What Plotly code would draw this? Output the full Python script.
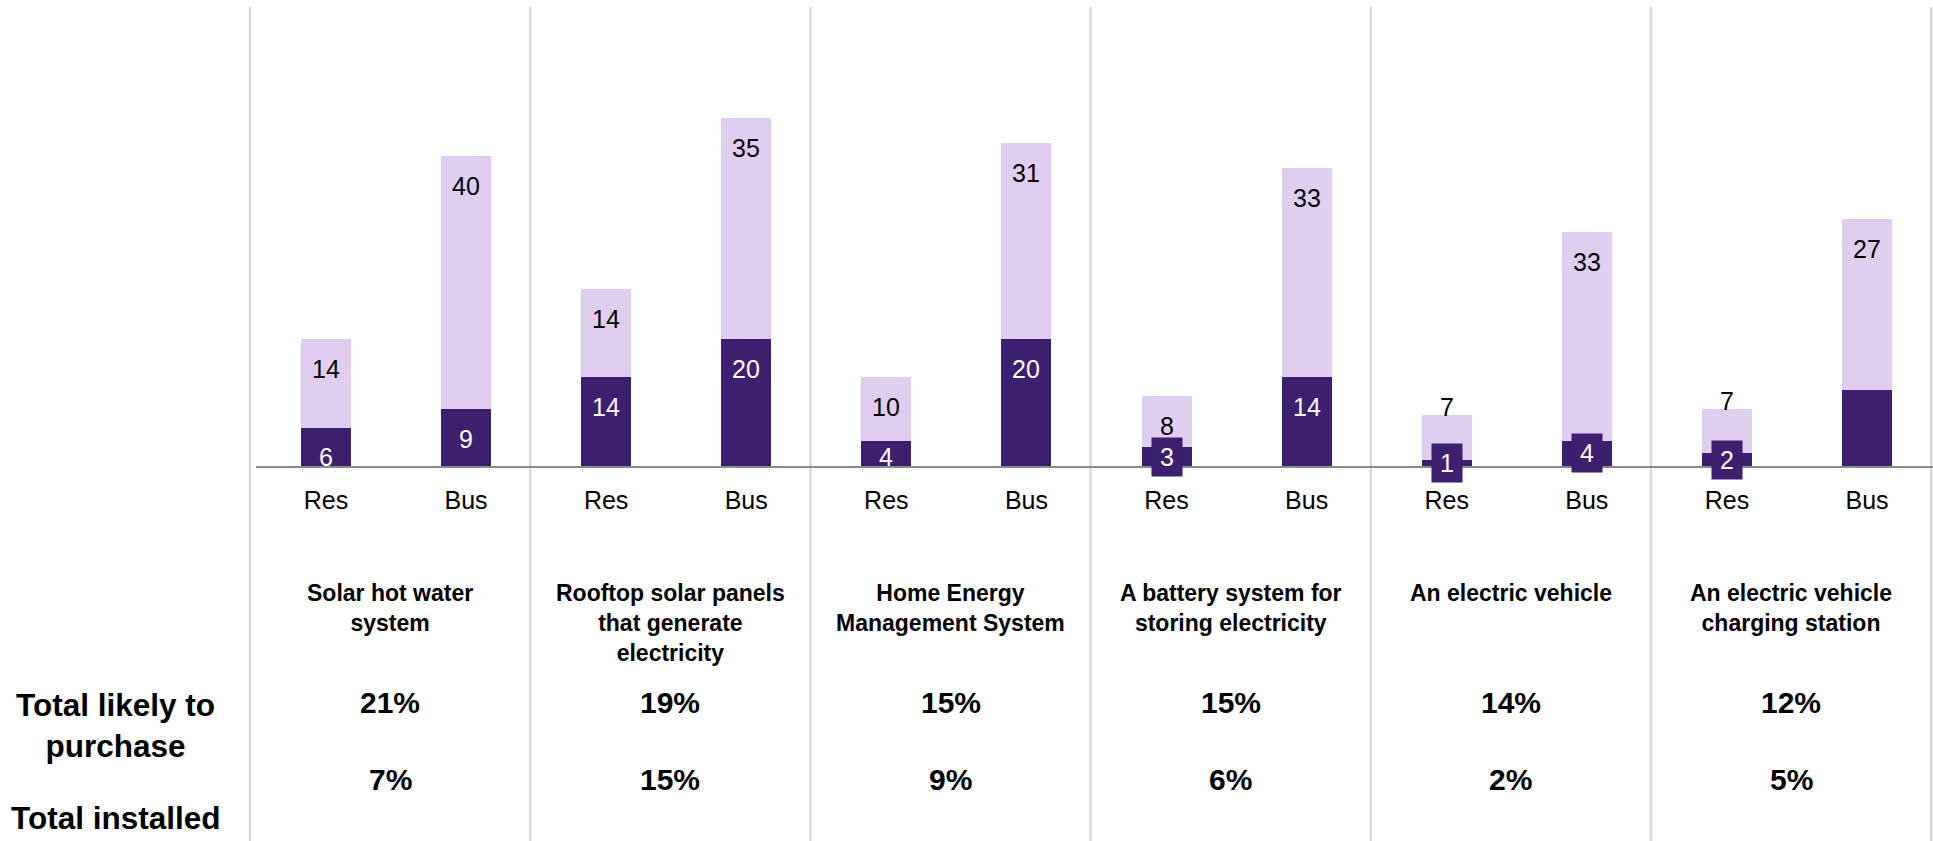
import plotly.graph_objects as go

# ---- data -------------------------------------------------------------
categories = [
    "Solar hot water<br>system",
    "Rooftop solar panels<br>that generate<br>electricity",
    "Home Energy<br>Management System",
    "A battery system for<br>storing electricity",
    "An electric vehicle",
    "An electric vehicle<br>charging station",
]
segments = ["Res", "Bus"]

installed_res = [6, 14, 4, 3, 1, 2]
installed_bus = [9, 20, 20, 14, 4, 12]
likely_res = [14, 14, 10, 8, 7, 7]
likely_bus = [40, 35, 31, 33, 33, 27]

total_likely = [21, 19, 15, 15, 14, 12]
total_installed = [7, 15, 9, 6, 2, 5]

row_labels = ["Total likely to<br>purchase", "Total installed"]

# ---- styling ----------------------------------------------------------
DARK = "#3c1f6e"
LIGHT = "#e0cef0"
AXIS_GREY = "#8c8c8c"
DIVIDER = "#d9d9d9"
FONT = "Liberation Sans, Arial, sans-serif"

W, H = 1933, 841
AXIS_PX = 466          # baseline position (px from top)
PX_PER_UNIT = 6.33     # vertical scale
SECTION_PX = 280.2     # width of one product column
LEFT_PX = 250          # left edge of first product column
PLOT_LEFT_PX = 256     # where the baseline starts
RES_OFF, BUS_OFF = 0.271, 0.771
BAR_W = 50 / SECTION_PX

# installed labels drawn as filled tags, and labels left out
TAGGED = {(3, "Res"), (4, "Res"), (4, "Bus"), (5, "Res")}
UNLABELLED = {(5, "Bus")}


def paper_y(py):
    return 1 - py / H


def paper_x(xv):
    return (LEFT_PX + xv * SECTION_PX) / W


n = len(categories)
xs, installed, likely, keys = [], [], [], []
for i in range(n):
    xs += [i + RES_OFF, i + BUS_OFF]
    installed += [installed_res[i], installed_bus[i]]
    likely += [likely_res[i], likely_bus[i]]
    keys += [(i, "Res"), (i, "Bus")]

fig = go.Figure()
fig.add_bar(x=xs, y=installed, width=BAR_W, name="Installed",
            marker=dict(color=DARK, line=dict(width=0)), hoverinfo="skip")
fig.add_bar(x=xs, y=likely, width=BAR_W, name="Likely to purchase",
            marker=dict(color=LIGHT, line=dict(width=0)), hoverinfo="skip")

annotations = []
label_font = dict(family=FONT, size=25)

for xv, inst, lik, key in zip(xs, installed, likely, keys):
    # likely-to-purchase value, near the top of the light segment
    top = inst + lik
    shift = -30 if lik >= 8 else 8
    annotations.append(dict(x=xv, y=top, xref="x", yref="y", text=str(lik),
                            showarrow=False, yanchor="middle", yshift=shift,
                            font=dict(label_font, color="black")))
    if key in UNLABELLED:
        continue
    if key in TAGGED:
        annotations.append(dict(x=xv, y=inst / 2, xref="x", yref="y",
                                text=str(inst), showarrow=False,
                                yanchor="middle", bgcolor=DARK, width=22,
                                height=30, borderpad=4,
                                font=dict(label_font, color="white")))
    else:
        shift = -min(30, inst * PX_PER_UNIT - 9)
        annotations.append(dict(x=xv, y=inst, xref="x", yref="y",
                                text=str(inst), showarrow=False,
                                yanchor="middle", yshift=shift,
                                font=dict(label_font, color="white")))

for i in range(n):
    cx = i + 0.5
    annotations.append(dict(x=cx, y=paper_y(578), xref="x", yref="paper",
                            text=f"<b>{categories[i]}</b>", showarrow=False,
                            xanchor="center", yanchor="top", align="center",
                            font=dict(family=FONT, size=23, color="black")))
    annotations.append(dict(x=cx, y=paper_y(702), xref="x", yref="paper",
                            text=f"<b>{total_likely[i]}%</b>", showarrow=False,
                            xanchor="center", yanchor="middle",
                            font=dict(family=FONT, size=30, color="black")))
    annotations.append(dict(x=cx, y=paper_y(779), xref="x", yref="paper",
                            text=f"<b>{total_installed[i]}%</b>", showarrow=False,
                            xanchor="center", yanchor="middle",
                            font=dict(family=FONT, size=30, color="black")))

for text, top_px in zip(row_labels, [685, 798]):
    annotations.append(dict(x=115 / W, y=paper_y(top_px), xref="paper",
                            yref="paper", text=f"<b>{text}</b>",
                            showarrow=False, xanchor="center", yanchor="top",
                            align="center",
                            font=dict(family=FONT, size=31.5, color="black")))

shapes = []
for i in range(n + 1):
    px = paper_x(i)
    shapes.append(dict(type="line", xref="paper", yref="paper",
                       x0=px, x1=px, y0=0, y1=paper_y(7),
                       line=dict(color=DIVIDER, width=2.5), layer="below"))

fig.update_layout(
    width=W, height=H,
    margin=dict(l=0, r=0, t=0, b=0),
    paper_bgcolor="white", plot_bgcolor="white",
    barmode="stack", bargap=0, showlegend=False,
    font=dict(family=FONT, color="black"),
    xaxis=dict(domain=[PLOT_LEFT_PX / W, 1],
               range=[(PLOT_LEFT_PX - LEFT_PX) / SECTION_PX,
                      (W - LEFT_PX) / SECTION_PX],
               showgrid=False, zeroline=False,
               showline=True, linecolor=AXIS_GREY, linewidth=2,
               tickmode="array", tickvals=xs,
               ticktext=[k[1] for k in keys], ticks="",
               ticklabelstandoff=11,
               tickfont=dict(family=FONT, size=25, color="black"),
               fixedrange=True),
    yaxis=dict(domain=[paper_y(AXIS_PX), 1],
               range=[0, AXIS_PX / PX_PER_UNIT],
               visible=False, fixedrange=True),
    annotations=annotations,
    shapes=shapes,
)

fig.write_html("out.html")
